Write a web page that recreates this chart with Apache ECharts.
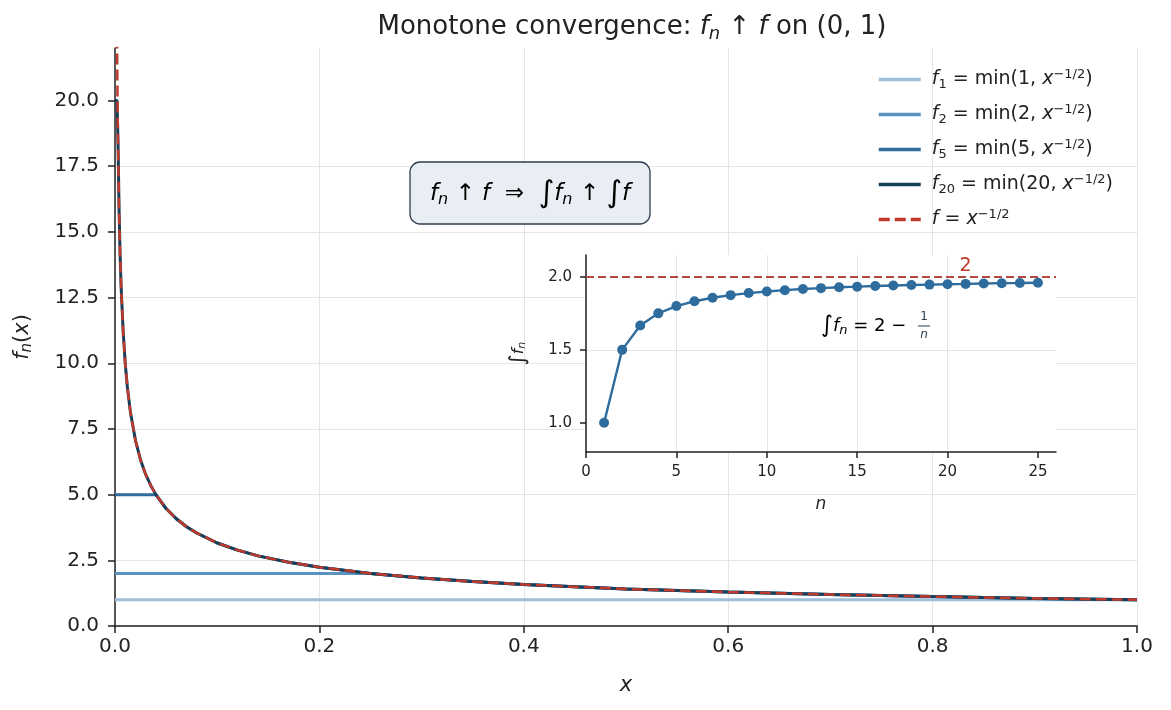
<!DOCTYPE html>
<html>
<head>
<meta charset="utf-8">
<script src="https://cdn.jsdelivr.net/npm/echarts@6/dist/echarts.min.js"></script>
<style>
  html, body { margin: 0; padding: 0; background: #fff; }
  #chart { width: 1171px; height: 710px; }
</style>
</head>
<body>
<div id="chart"></div>
<script>
// sample positions on (0, 1)
var xs = [0, 0.002, 0.0025, 0.003, 0.004, 0.005, 0.006, 0.008, 0.01, 0.012, 0.015, 0.02, 0.025, 0.03, 0.035, 0.04,
  0.05, 0.06, 0.07, 0.08, 0.1, 0.12, 0.14, 0.17, 0.2, 0.25, 0.3, 0.35, 0.4, 0.5, 0.6, 0.7, 0.8, 0.9, 1.0];
// values
var fVals = [null, 22.4, 20.0, 18.3, 15.8, 14.1, 12.9, 11.2, 10.0, 9.13, 8.16, 7.07, 6.32, 5.77, 5.35, 5.0,
  4.47, 4.08, 3.78, 3.54, 3.16, 2.89, 2.67, 2.43, 2.24, 2.0, 1.83, 1.69, 1.58, 1.41, 1.29, 1.20, 1.12, 1.05, 1.0];
var f20Vals = [20, 20, 20.0, 18.3, 15.8, 14.1, 12.9, 11.2, 10.0, 9.13, 8.16, 7.07, 6.32, 5.77, 5.35, 5.0,
  4.47, 4.08, 3.78, 3.54, 3.16, 2.89, 2.67, 2.43, 2.24, 2.0, 1.83, 1.69, 1.58, 1.41, 1.29, 1.20, 1.12, 1.05, 1.0];
var f5Vals = [5, 5, 5, 5, 5, 5, 5, 5, 5, 5, 5, 5, 5, 5, 5, 5.0,
  4.47, 4.08, 3.78, 3.54, 3.16, 2.89, 2.67, 2.43, 2.24, 2.0, 1.83, 1.69, 1.58, 1.41, 1.29, 1.20, 1.12, 1.05, 1.0];
var f2Vals = [2, 2, 2, 2, 2, 2, 2, 2, 2, 2, 2, 2, 2, 2, 2, 2,
  2, 2, 2, 2, 2, 2, 2, 2, 2, 2.0, 1.83, 1.69, 1.58, 1.41, 1.29, 1.20, 1.12, 1.05, 1.0];
var f1Vals = [1, 1, 1, 1, 1, 1, 1, 1, 1, 1, 1, 1, 1, 1, 1, 1,
  1, 1, 1, 1, 1, 1, 1, 1, 1, 1, 1, 1, 1, 1, 1, 1, 1, 1, 1];

// inset: integral of f_n
var nVals = [1, 2, 3, 4, 5, 6, 7, 8, 9, 10, 11, 12, 13, 14, 15, 16, 17, 18, 19, 20, 21, 22, 23, 24, 25];
var intVals = [1.0, 1.5, 1.667, 1.75, 1.8, 1.833, 1.857, 1.875, 1.889, 1.9, 1.909, 1.917, 1.923, 1.929, 1.933,
  1.938, 1.941, 1.944, 1.947, 1.95, 1.952, 1.955, 1.957, 1.958, 1.96];
var limitVal = 2;

var seriesNames = ['f1', 'f2', 'f5', 'f20', 'f'];
var legendLabels = {
  f1: '{n| }{i|f}{d|1}{n| = min(1, }{i|x}{p|−1/2}{n|)}',
  f2: '{n| }{i|f}{d|2}{n| = min(2, }{i|x}{p|−1/2}{n|)}',
  f5: '{n| }{i|f}{d|5}{n| = min(5, }{i|x}{p|−1/2}{n|)}',
  f20: '{n| }{i|f}{d|20}{n| = min(20, }{i|x}{p|−1/2}{n|)}',
  f: '{n| }{i|f}{n| = }{i|x}{p|−1/2}'
};

var yTicks = [0, 2.5, 5, 7.5, 10, 12.5, 15, 17.5, 20];
var insetXTicks = [0, 5, 10, 15, 20, 25];
var insetYTicks = [1.0, 1.5, 2.0];

function pairs(vals) {
  return xs.map(function (x, i) { return [x, vals[i]]; });
}

var FONT = 'DejaVu Sans';
var INK = '#222';
var GRID = '#e5e5e5';

// rich styles for math-like labels: n normal, i italic, s/d subscript, p superscript, g integral sign
function richSet(size, color) {
  color = color || INK;
  var small = Math.round(size * 0.7);
  var lh = Math.round(size * 1.2);
  var slh = Math.round(size * 0.5);
  return {
    n: { fontFamily: FONT, fontSize: size, fontWeight: 'normal', color: color, lineHeight: lh },
    i: { fontFamily: FONT, fontSize: size, fontWeight: 'normal', fontStyle: 'italic', color: color, lineHeight: lh },
    s: { fontFamily: FONT, fontSize: small, fontWeight: 'normal', fontStyle: 'italic', color: color, verticalAlign: 'bottom', lineHeight: slh },
    d: { fontFamily: FONT, fontSize: small, fontWeight: 'normal', color: color, verticalAlign: 'bottom', lineHeight: slh },
    p: { fontFamily: FONT, fontSize: small, fontWeight: 'normal', color: color, verticalAlign: 'top', lineHeight: slh },
    g: { fontFamily: FONT, fontSize: Math.round(size * 1.3), fontWeight: 'normal', color: color, lineHeight: lh }
  };
}

var myChart = echarts.init(document.getElementById('chart'));
var option = {
  animation: false,
  backgroundColor: '#fff',
  title: {
    text: '{n|Monotone convergence: }{i|f}{s|n}{n| ↑ }{i|f}{n| on (0, 1)}',
    left: 627,
    top: 7,
    textAlign: 'center',
    textStyle: { fontWeight: 'normal', rich: richSet(26) }
  },
  legend: {
    orient: 'vertical',
    left: 872,
    top: 63,
    itemWidth: 42,
    itemHeight: 14,
    itemGap: 12,
    data: seriesNames,
    itemStyle: { opacity: 0 },
    lineStyle: { width: 3.5 },
    formatter: function (name) { return legendLabels[name]; },
    textStyle: { rich: richSet(19) }
  },
  grid: [
    { left: 115, top: 48, width: 1022, height: 578, containLabel: false },
    { left: 586, top: 255, width: 470, height: 197, show: true, backgroundColor: '#fff', borderWidth: 0, z: 1 }
  ],
  xAxis: [
    {
      type: 'value', gridIndex: 0, min: 0, max: 1, interval: 0.2,
      name: 'x', nameLocation: 'middle', nameGap: 49,
      nameTextStyle: { fontFamily: FONT, fontSize: 21, fontStyle: 'italic', color: INK },
      axisLine: { show: true, onZero: false, lineStyle: { color: INK, width: 1.5 } },
      axisTick: { show: true, length: 7, lineStyle: { color: INK, width: 1.5 } },
      axisLabel: { fontFamily: FONT, fontSize: 20, color: INK, margin: 11,
        formatter: function (v) { return v.toFixed(1); } },
      splitLine: { show: true, lineStyle: { color: GRID, width: 1 } }
    },
    {
      type: 'value', gridIndex: 1, min: 0, max: 26, interval: 5, z: 2,
      name: 'n', nameLocation: 'middle', nameGap: 44,
      nameTextStyle: { fontFamily: FONT, fontSize: 17, fontStyle: 'italic', color: INK },
      axisLine: { show: true, onZero: false, lineStyle: { color: INK, width: 1.5 } },
      axisTick: { show: true, length: 6, customValues: insetXTicks, lineStyle: { color: INK, width: 1.5 } },
      axisLabel: { fontFamily: FONT, fontSize: 15, color: INK, margin: 13, customValues: insetXTicks },
      splitLine: { show: true, showMaxLine: false, lineStyle: { color: GRID, width: 1 } }
    }
  ],
  yAxis: [
    {
      type: 'value', gridIndex: 0, min: 0, max: 22, interval: 2.5,
      name: '{i|f}{s|n}{n|(}{i|x}{n|)}', nameLocation: 'middle', nameGap: 80, nameRotate: 90,
      nameTextStyle: { rich: richSet(21) },
      axisLine: { show: true, onZero: false, lineStyle: { color: INK, width: 1.5 } },
      axisTick: { show: true, length: 7, customValues: yTicks, lineStyle: { color: INK, width: 1.5 } },
      axisLabel: { fontFamily: FONT, fontSize: 20, color: INK, margin: 16, customValues: yTicks,
        formatter: function (v) { return v.toFixed(1); } },
      splitLine: { show: true, showMaxLine: false, lineStyle: { color: GRID, width: 1 } }
    },
    {
      type: 'value', gridIndex: 1, min: 0.8, max: 2.15, z: 2,
      name: '{g|∫}{i|f}{s|n}', nameLocation: 'middle', nameGap: 58, nameRotate: 90,
      nameTextStyle: { rich: richSet(16) },
      axisLine: { show: true, onZero: false, lineStyle: { color: INK, width: 1.5 } },
      axisTick: { show: true, length: 6, customValues: insetYTicks, lineStyle: { color: INK, width: 1.5 } },
      axisLabel: { fontFamily: FONT, fontSize: 15, color: INK, margin: 14, customValues: insetYTicks,
        formatter: function (v) { return v.toFixed(1); } },
      splitLine: { show: true, showMinLine: false, showMaxLine: false, lineStyle: { color: GRID, width: 1 } }
    }
  ],
  series: [
    { name: 'f1', type: 'line', data: pairs(f1Vals), symbol: 'none', lineStyle: { color: '#9ebfda', width: 3 }, itemStyle: { color: '#9ebfda' } },
    { name: 'f2', type: 'line', data: pairs(f2Vals), symbol: 'none', lineStyle: { color: '#5a92c0', width: 3 }, itemStyle: { color: '#5a92c0' } },
    { name: 'f5', type: 'line', data: pairs(f5Vals), symbol: 'none', lineStyle: { color: '#2f6c9d', width: 3 }, itemStyle: { color: '#2f6c9d' } },
    { name: 'f20', type: 'line', data: pairs(f20Vals), symbol: 'none', lineStyle: { color: '#143f5b', width: 3 }, itemStyle: { color: '#143f5b' } },
    { name: 'f', type: 'line', data: pairs(fVals), symbol: 'none', lineStyle: { color: '#c0392b', width: 2.5, type: [11, 5] }, itemStyle: { color: '#c0392b' } },
    {
      name: 'integral', type: 'line', xAxisIndex: 1, yAxisIndex: 1, z: 4,
      data: nVals.map(function (n, i) { return [n, intVals[i]]; }),
      symbol: 'circle', symbolSize: 10,
      lineStyle: { color: '#2e6c9d', width: 2.4 }, itemStyle: { color: '#2e6c9d' },
      markLine: {
        silent: true, symbol: 'none',
        lineStyle: { color: '#b5493e', width: 2, type: [8, 4] },
        label: { show: false },
        data: [{ yAxis: limitVal }]
      },
      markPoint: {
        silent: true, symbol: 'circle', symbolSize: 0,
        label: { show: true, position: 'top', distance: 1, formatter: '2', fontFamily: FONT, fontSize: 19, color: '#c0392b' },
        data: [{ coord: [21, limitVal] }]
      }
    }
  ],
  graphic: [
    {
      type: 'rect', z: 10,
      shape: { x: 410, y: 162, width: 240, height: 62, r: 10 },
      style: { fill: '#e9eef4', stroke: '#2c3e50', lineWidth: 1.3 }
    },
    {
      type: 'text', z: 11, x: 530, y: 194,
      style: {
        text: '{i|f}{s|n}{n| ↑ }{i|f}{n|  ⇒  }{g|∫}{i|f}{s|n}{n| ↑ }{g|∫}{i|f}',
        align: 'center', verticalAlign: 'middle',
        rich: richSet(23, '#2c3e50')
      }
    },
    {
      type: 'text', z: 11, x: 821, y: 326,
      style: {
        text: '{g|∫}{i|f}{s|n}{n| = 2 − }',
        align: 'left', verticalAlign: 'middle',
        rich: richSet(18, '#2c3e50')
      }
    },
    {
      type: 'text', z: 11, x: 924, y: 317,
      style: { text: '1', align: 'center', verticalAlign: 'middle', fontFamily: FONT, fontSize: 12, fill: '#2c3e50' }
    },
    {
      type: 'line', z: 11,
      shape: { x1: 918, y1: 326, x2: 930, y2: 326 },
      style: { stroke: '#2c3e50', lineWidth: 1 }
    },
    {
      type: 'text', z: 11, x: 924, y: 335,
      style: { text: 'n', align: 'center', verticalAlign: 'middle', fontFamily: FONT, fontSize: 12, fontStyle: 'italic', fill: '#2c3e50' }
    }
  ]
};
myChart.setOption(option);
window.addEventListener('resize', function () {
  myChart.resize();
});
</script>
</body>
</html>
